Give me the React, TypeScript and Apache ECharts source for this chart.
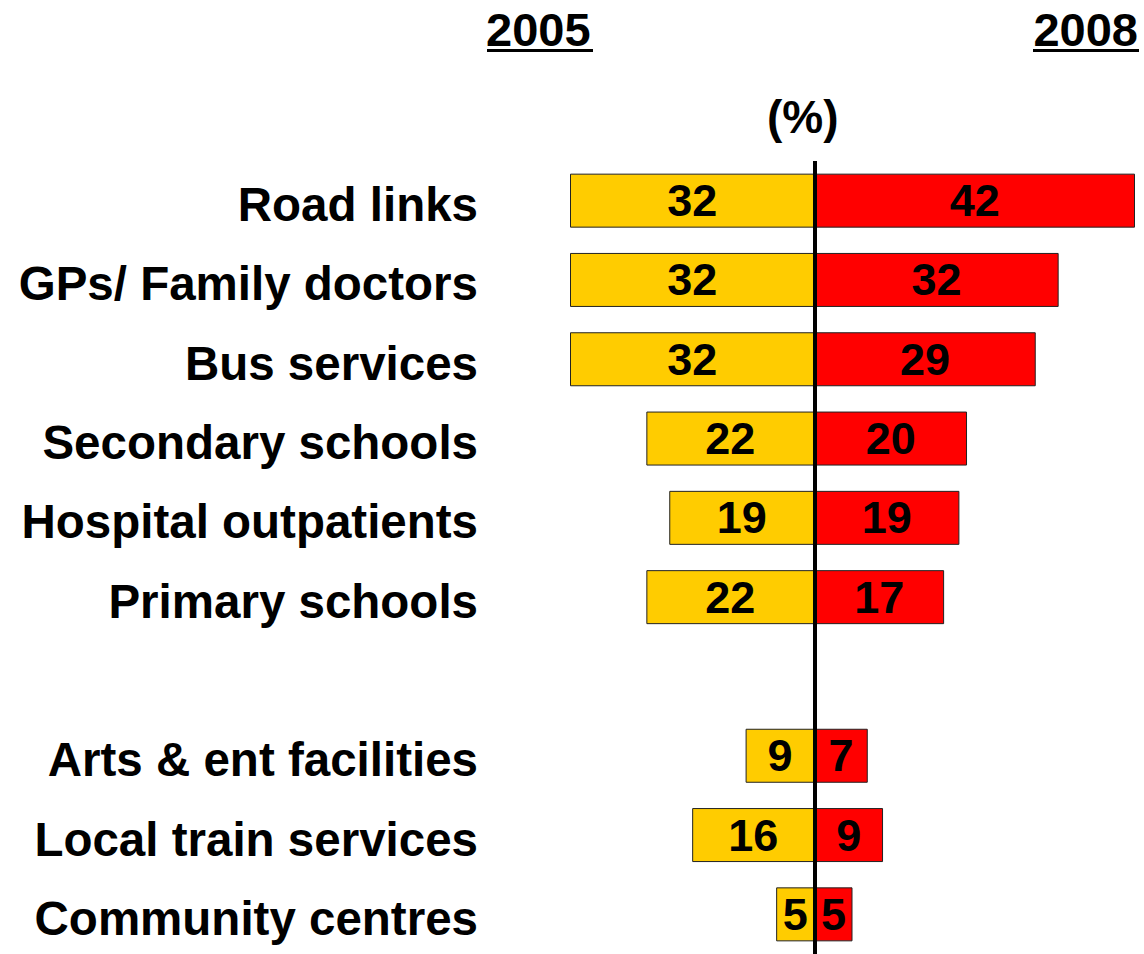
import React, { useEffect, useRef } from "react";
import * as echarts from "echarts";

const categories = [
  "Road links",
  "GPs/ Family doctors",
  "Bus services",
  "Secondary schools",
  "Hospital outpatients",
  "Primary schools",
  "",
  "Arts & ent facilities",
  "Local train services",
  "Community centres",
];
const values2005 = [32, 32, 32, 22, 19, 22, null, 9, 16, 5];
const values2008 = [42, 32, 29, 20, 19, 17, null, 7, 9, 5];
const yearLeft = "2005";
const yearRight = "2008";
const unitLabel = "(%)";

const FONT = "'Liberation Sans', Arial, Helvetica, sans-serif";

export default function App() {
  const ref = useRef<HTMLDivElement>(null);
  useEffect(() => {
    if (!ref.current) return;
    const chart = echarts.init(ref.current, undefined, { renderer: "svg" });
    const labelStyle = {
      show: true,
      position: "inside",
      color: "#000",
      fontFamily: FONT,
      fontWeight: "bold",
      fontSize: 45,
      formatter: (p: any) => String(Math.abs(p.value)),
    };
    chart.setOption({
      animation: false,
      backgroundColor: "#fff",
      grid: { left: 570, right: 9, top: 161, bottom: 0, containLabel: false },
      xAxis: {
        type: "value",
        min: -32,
        max: 42,
        show: false,
      },
      yAxis: {
        type: "category",
        inverse: true,
        data: categories,
        axisLine: { show: false },
        axisTick: { show: false },
        splitLine: { show: false },
        axisLabel: {
          margin: 92,
          color: "#000",
          fontFamily: FONT,
          fontWeight: "bold",
          fontSize: 47.5,
          verticalAlign: "top",
          lineHeight: 8,
        },
      },
      series: [
        {
          name: yearLeft,
          type: "bar",
          barWidth: 54,
          barGap: "-100%",
          data: values2005.map((v) => (v == null ? null : -v)),
          itemStyle: { color: "#FFCC00", borderColor: "#222", borderWidth: 1 },
          label: labelStyle,
        },
        {
          name: yearRight,
          type: "bar",
          barWidth: 54,
          barGap: "-100%",
          data: values2008,
          itemStyle: { color: "#FF0000", borderColor: "#222", borderWidth: 1 },
          label: labelStyle,
          markLine: {
            silent: true,
            symbol: "none",
            z: 10,
            label: { show: false },
            lineStyle: { color: "#000", width: 4, type: "solid" },
            data: [{ xAxis: 0 }],
          },
        },
      ],
      graphic: [
        {
          type: "text",
          left: 486,
          top: 6,
          style: {
            text: yearLeft,
            fill: "#000",
            font: `bold 47px ${FONT}`,
          },
        },
        { type: "rect", left: 487, top: 49, shape: { width: 106, height: 3 }, style: { fill: "#000" } },
        {
          type: "text",
          right: 6,
          top: 6,
          style: {
            text: yearRight,
            fill: "#000",
            font: `bold 47px ${FONT}`,
          },
        },
        { type: "rect", left: 1033, top: 49, shape: { width: 106, height: 3 }, style: { fill: "#000" } },
        {
          type: "text",
          left: 767,
          top: 94,
          style: {
            text: unitLabel,
            fill: "#000",
            font: `bold 46px ${FONT}`,
          },
        },
      ],
    });
    return () => chart.dispose();
  }, []);
  return (
    <div
      ref={ref}
      style={{ position: "fixed", left: 0, top: 0, width: 1144, height: 954 }}
    />
  );
}
